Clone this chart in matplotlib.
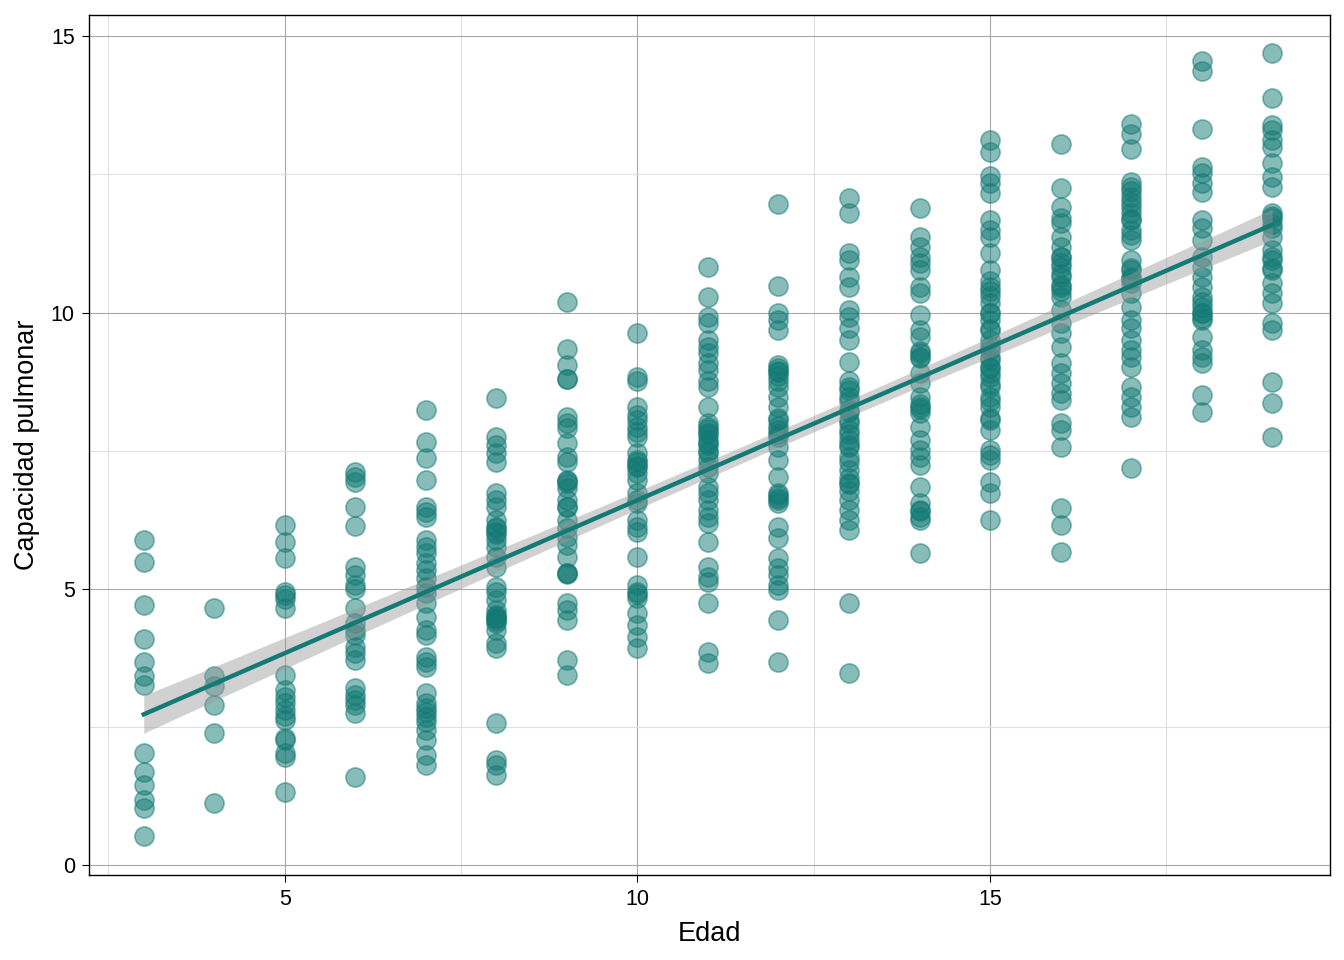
import numpy as np
import matplotlib
matplotlib.use("Agg")
from matplotlib import pyplot as plt
from matplotlib.ticker import MultipleLocator

plt.rcParams["font.family"] = ["Liberation Sans", "DejaVu Sans"]

# capacidad pulmonar por edad
edad3 = [5.88, 5.48, 4.70, 4.09, 3.67, 3.43, 3.26, 2.03, 1.68, 1.45, 1.18, 1.03, 0.52]
edad4 = [4.65, 3.42, 3.25, 2.89, 2.39, 1.12]
edad5 = [6.15, 5.84, 5.55, 4.95, 4.88, 4.82, 4.65, 3.44, 3.17, 3.05, 2.93, 2.80,
         2.70, 2.63, 2.30, 2.26, 2.03, 1.95, 1.32]
edad6 = [7.11, 7.02, 6.93, 6.48, 6.13, 5.39, 5.25, 5.07, 4.99, 4.65, 4.38, 4.25,
         4.16, 3.94, 3.83, 3.71, 3.20, 3.08, 2.99, 2.89, 2.75, 1.59]
edad7 = [8.23, 7.65, 7.36, 6.97, 6.48, 6.39, 6.30, 5.88, 5.75, 5.64, 5.46, 5.34,
         5.19, 5.03, 4.92, 4.74, 4.49, 4.25, 4.16, 3.76, 3.67, 3.58, 3.11, 2.93,
         2.84, 2.77, 2.68, 2.59, 2.44, 2.26, 1.99, 1.81]
edad8 = [8.45, 7.74, 7.60, 7.45, 7.29, 6.73, 6.60, 6.48, 6.24, 6.12, 6.00, 5.88,
         5.75, 5.57, 5.39, 5.03, 4.94, 4.79, 4.61, 4.52, 4.47, 4.38, 4.25, 4.02,
         3.93, 2.57, 1.90, 1.81, 1.63, 4.45, 4.42, 4.50, 6.10, 6.02]
edad9 = [10.20, 9.35, 9.05, 8.79, 8.11, 8.00, 7.91, 7.64, 7.38, 7.29, 6.97, 6.91,
         6.82, 6.60, 6.48, 6.24, 6.10, 5.93, 5.79, 5.57, 5.28, 5.26, 4.74, 4.61,
         4.43, 3.71, 3.44, 6.95, 5.28, 8.79, 6.48]
edad10 = [9.63, 8.83, 8.77, 8.29, 8.14, 8.05, 7.93, 7.83, 7.74, 7.45, 7.33, 7.20,
          7.09, 6.97, 6.73, 6.60, 6.24, 6.12, 6.03, 5.57, 5.07, 4.94, 4.83, 4.56,
          4.34, 4.13, 3.93, 7.30, 7.22, 6.55, 4.90]
edad11 = [10.82, 10.29, 9.92, 9.81, 9.50, 9.37, 9.26, 9.08, 8.96, 8.77, 8.65, 8.29,
          7.93, 7.82, 7.64, 7.45, 7.33, 7.20, 7.09, 6.84, 6.73, 6.60, 6.42, 6.30,
          6.19, 5.84, 5.39, 5.21, 5.12, 4.74, 3.85, 3.65,
          7.50, 7.60, 7.70, 7.80, 7.90, 8.00]
edad12 = [11.96, 10.48, 9.99, 9.86, 9.68, 9.05, 8.92, 8.77, 8.65, 8.47, 8.29, 8.05,
          7.87, 7.74, 7.56, 7.33, 7.02, 6.73, 6.64, 6.55, 6.12, 5.92, 5.55, 5.37,
          5.25, 5.07, 4.98, 4.43, 3.67, 9.00, 8.95, 8.85, 8.10, 7.95, 7.80, 6.70, 6.60]
edad13 = [12.07, 11.80, 11.07, 10.95, 10.64, 10.46, 10.04, 9.92, 9.72, 9.50, 9.10,
          8.77, 8.65, 8.47, 8.23, 8.05, 7.87, 7.69, 7.56, 7.38, 7.15, 6.91, 6.78,
          6.60, 6.42, 6.24, 6.06, 4.74, 3.47,
          8.60, 8.40, 8.20, 8.00, 7.80, 7.60, 7.30, 7.00, 6.90]
edad14 = [11.89, 11.36, 11.18, 11.00, 10.89, 10.77, 10.46, 10.35, 9.95, 9.68, 9.55,
          9.26, 9.17, 8.90, 8.72, 8.47, 8.29, 8.18, 7.93, 7.69, 7.51, 7.38, 7.24,
          6.84, 6.55, 6.42, 6.24, 5.64, 9.30, 9.20, 8.35, 8.25, 6.40, 6.30]
edad15 = [13.12, 12.90, 12.48, 12.34, 12.16, 11.67, 11.49, 11.36, 11.07, 10.77,
          10.58, 10.46, 10.40, 10.17, 9.99, 9.86, 9.68, 9.50, 9.32, 9.14, 9.01,
          8.83, 8.65, 8.47, 8.29, 8.05, 7.87, 7.51, 7.42, 7.33, 6.93, 6.73, 6.24,
          10.30, 10.00, 9.70, 9.40, 9.20, 9.00, 8.90, 8.70, 8.40, 8.10]
edad16 = [13.06, 12.25, 11.91, 11.72, 11.62, 11.36, 11.18, 11.00, 10.82, 10.64,
          10.46, 10.28, 10.04, 9.81, 9.63, 9.37, 9.08, 8.90, 8.72, 8.54, 8.41,
          8.00, 7.87, 7.56, 6.46, 6.15, 5.66, 11.00, 10.90, 10.70, 10.50, 10.40]
edad17 = [13.42, 13.24, 12.97, 12.36, 12.27, 12.09, 11.91, 11.80, 11.67, 11.49,
          11.31, 10.95, 10.77, 10.64, 10.53, 10.35, 10.10, 9.86, 9.73, 9.50, 9.32,
          9.19, 9.01, 8.65, 8.47, 8.29, 8.11, 7.18, 12.20, 12.00, 11.70, 11.40,
          10.80, 10.60]
edad18 = [14.56, 14.37, 13.33, 12.63, 12.52, 12.34, 12.18, 11.67, 11.54, 11.31,
          11.00, 10.82, 10.64, 10.46, 10.28, 10.10, 9.99, 9.86, 9.55, 9.32, 9.19,
          9.08, 8.50, 8.20, 10.20, 10.00, 9.90]
edad19 = [14.69, 13.88, 13.39, 13.30, 13.12, 12.99, 12.70, 12.45, 12.27, 11.81,
          11.71, 11.54, 11.36, 11.13, 10.95, 10.77, 10.53, 10.35, 10.17, 9.81,
          9.68, 8.74, 8.36, 7.74, 11.75, 11.60, 11.00, 10.80]

edades = list(range(3, 20))
columnas = [edad3, edad4, edad5, edad6, edad7, edad8, edad9, edad10, edad11,
            edad12, edad13, edad14, edad15, edad16, edad17, edad18, edad19]

x = np.concatenate([[e] * len(c) for e, c in zip(edades, columnas)]).astype(float)
y = np.concatenate(columnas)

# ajuste lineal con intervalo de confianza del 95%
b, a = np.polyfit(x, y, 1)
n = len(x)
res = y - (a + b * x)
s = np.sqrt(np.sum(res ** 2) / (n - 2))
xs = np.linspace(x.min(), x.max(), 100)
se = s * np.sqrt(1 / n + (xs - x.mean()) ** 2 / np.sum((x - x.mean()) ** 2))
yfit = a + b * xs

color = "#137a75"

fig = plt.figure(figsize=(13.44, 9.6), dpi=100)
ax = fig.add_axes([0.066, 0.0885, 0.9236, 0.8955])

ax.scatter(x, y, s=190, color=color, alpha=0.5, edgecolors=color, linewidths=1.2, zorder=3)
ax.fill_between(xs, yfit - 1.96 * se, yfit + 1.96 * se, color="#999999", alpha=0.45,
                linewidth=0, zorder=4)
ax.plot(xs, yfit, color=color, linewidth=3.2, zorder=5)

ax.set_xlim(2.22, 19.82)
ax.set_ylim(-0.18, 15.38)
ax.xaxis.set_major_locator(MultipleLocator(5))
ax.yaxis.set_major_locator(MultipleLocator(5))
ax.xaxis.set_minor_locator(MultipleLocator(2.5))
ax.yaxis.set_minor_locator(MultipleLocator(2.5))
ax.grid(which="major", color="#a8a8a8", linewidth=0.8, zorder=0)
ax.grid(which="minor", color="#e0e0e0", linewidth=0.8, zorder=0)
ax.set_axisbelow(True)
ax.tick_params(which="major", direction="out", length=5, width=0.8, colors="black",
               labelsize=15.5, pad=5)
ax.tick_params(which="minor", length=0)
for sp in ax.spines.values():
    sp.set_color("black")
    sp.set_linewidth(1.0)

ax.set_xlabel("Edad", fontsize=19.5, labelpad=8)
ax.set_ylabel("Capacidad pulmonar", fontsize=19.5, labelpad=8)

plt.savefig("out.png", dpi=100)
